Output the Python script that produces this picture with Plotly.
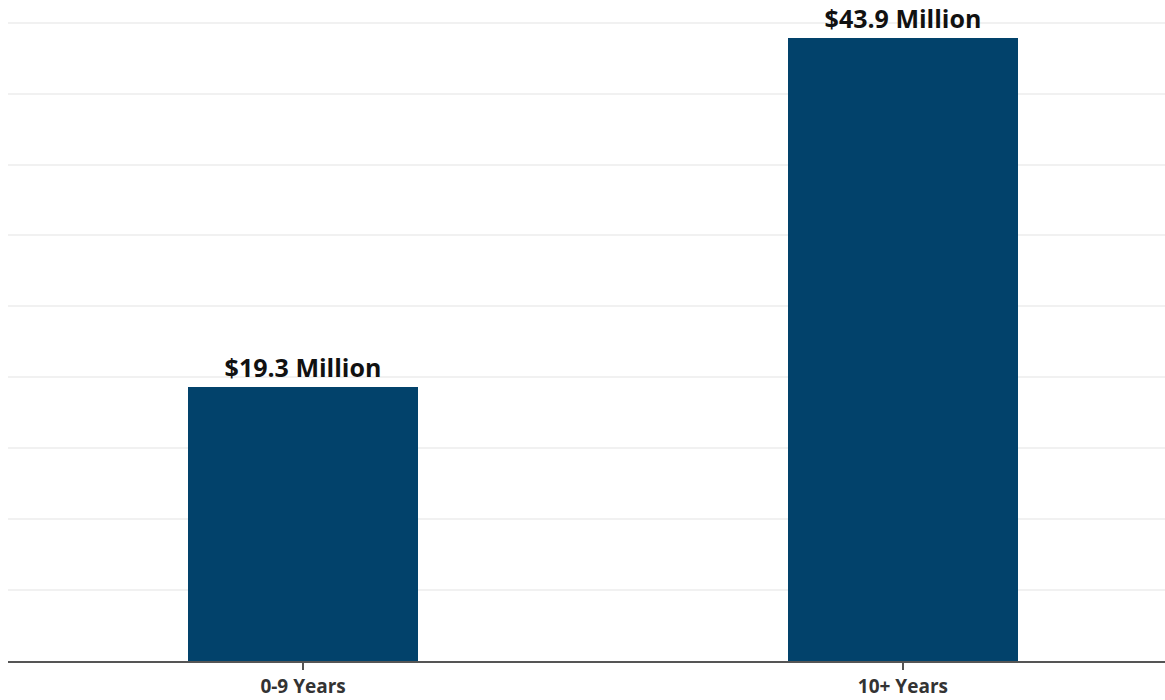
import plotly.graph_objects as go

categories = ["0-9 Years", "10+ Years"]
values = [19.3, 43.9]
labels = ["$19.3 Million", "$43.9 Million"]

fig = go.Figure(
    go.Bar(
        x=categories,
        y=values,
        text=labels,
        textposition="outside",
        textfont=dict(family="Open Sans", size=25, color="#111111", weight="bold"),
        marker=dict(color="#02426b", line=dict(width=0)),
        width=0.383,
        cliponaxis=False,
        hoverinfo="skip",
    )
)

fig.update_layout(
    width=1165,
    height=700,
    margin=dict(l=8, r=0, t=0, b=39),
    paper_bgcolor="white",
    plot_bgcolor="white",
    showlegend=False,
    bargap=0,
)

fig.update_xaxes(
    type="category",
    range=[-0.492, 1.437],
    automargin=False,
    showline=True,
    linecolor="#555555",
    linewidth=1.5,
    ticks="outside",
    ticklen=7,
    tickwidth=1.5,
    tickcolor="#555555",
    ticklabelstandoff=0,
    tickfont=dict(family="Open Sans", size=19, color="#333333", weight="bold"),
    showgrid=False,
    zeroline=False,
)

fig.update_yaxes(
    range=[0, 46.6],
    tick0=0,
    dtick=5,
    automargin=False,
    showgrid=True,
    gridcolor="#f1f1f1",
    gridwidth=1.5,
    showticklabels=False,
    zeroline=False,
    showline=False,
)

fig.write_html("out.html")
